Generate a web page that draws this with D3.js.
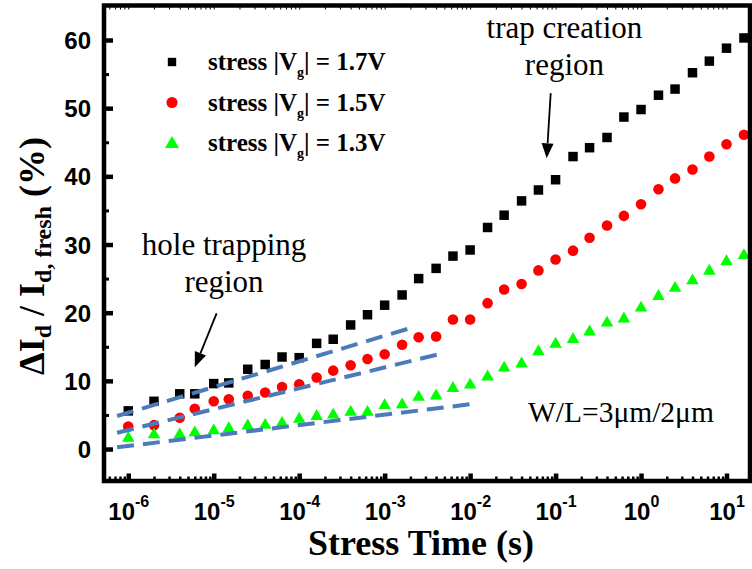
<!DOCTYPE html>
<html>
<head>
<meta charset="utf-8">
<script src="https://cdn.jsdelivr.net/npm/d3@7"></script>
<style>
  html, body { margin: 0; padding: 0; background: #fff; }
  svg { display: block; }
</style>
</head>
<body>
<svg id="chart" width="752" height="569"></svg>
<script>
// Stress times (s)
const times = [1e-6, 2e-6, 4e-6, 6e-6, 1e-5, 1.5e-5, 2.5e-5, 4e-5, 6.3e-5, 1e-4,
  1.6e-4, 2.5e-4, 4e-4, 6.3e-4, 1e-3, 1.6e-3, 2.5e-3, 4e-3, 6.3e-3, 1e-2,
  1.6e-2, 2.5e-2, 4e-2, 6.3e-2, 0.1, 0.16, 0.25, 0.4, 0.63, 1,
  1.6, 2.5, 4, 6.3, 10, 16];

// Drain-current degradation ΔId/Id,fresh (%) for each gate stress voltage
const vg17 = [5.6, 7.0, 8.1, 8.1, 9.6, 9.7, 11.7, 12.4, 13.5, 13.4,
  15.5, 16.1, 18.2, 19.7, 21.1, 22.6, 25.0, 26.5, 28.3, 29.2,
  32.5, 34.3, 36.4, 38.0, 39.5, 42.9, 44.2, 45.7, 48.7, 49.8,
  51.9, 52.8, 55.2, 56.9, 58.8, 60.3];
const vg15 = [3.3, 3.5, 4.6, 5.9, 7.0, 7.3, 7.8, 8.3, 9.1, 9.5,
  10.5, 11.5, 12.3, 13.2, 13.9, 15.3, 16.4, 16.5, 19.0, 19.0,
  21.4, 23.4, 24.2, 26.2, 27.8, 29.1, 31.0, 32.8, 34.2, 35.9,
  38.1, 39.7, 41.0, 42.9, 44.7, 46.1];
const vg13 = [1.6, 2.1, 2.1, 2.4, 2.7, 3.0, 3.4, 3.5, 3.8, 4.4,
  4.8, 5.0, 5.4, 5.4, 6.4, 6.5, 7.6, 7.8, 8.9, 9.4,
  10.6, 11.9, 12.5, 14.3, 15.4, 16.1, 17.2, 18.5, 19.1, 20.7,
  22.4, 23.6, 24.7, 26.1, 27.5, 28.4];

const seriesVoltages = ["1.7V", "1.5V", "1.3V"];
const seriesColors = ["#000000", "#ff0000", "#00ff00"];

// Hole-trapping regime fits (log-linear): [t, value] end points
const fitLines = [
  [[7.4e-7, 4.84], [2.2e-3, 17.9]],
  [[7.4e-7, 2.39], [4.6e-3, 14.0]],
  [[7.4e-7, 0.25], [1.05e-2, 6.6]]
];

// Tick values
const xTickExponents = [-6, -5, -4, -3, -2, -1, 0, 1];
const yTicks = [0, 10, 20, 30, 40, 50, 60];
const yMinorTicks = [5, 15, 25, 35, 45, 55];

// Text annotations with arrows (positions in data units)
const notes = [
  { lines: ["trap creation", "region"], t: 0.127, v: 60.3 },
  { lines: ["hole trapping", "region"], t: 1.32e-5, v: 28.5 }
];
const arrows = [
  { from: [0.0877, 52.2], to: [0.0787, 42.65] },
  { from: [1.08e-5, 19.9], to: [6.0e-6, 12.0] }
];
const deviceNote = { text: "W/L=3\u03bcm/2\u03bcm", t: 0.0475, v: 3.96 };

// ---------------------------------------------------------------
const serif = "'Liberation Serif', 'Times New Roman', Times, serif";
const sans = "'Liberation Sans', Arial, Helvetica, sans-serif";

const svg = d3.select("#chart");
const plot = { left: 104, right: 750, top: 5.5, bottom: 481 };

const x = d3.scaleLog()
  .domain([Math.pow(10, -6.284), Math.pow(10, 1.275)])
  .range([plot.left, plot.right]);
const y = d3.scaleLinear()
  .domain([-4.69, 65.06])
  .range([plot.bottom, plot.top]);

// ---- axes (ticks point inward) ----
const majorX = xTickExponents.map(e => Math.pow(10, e));
const minorX = x.ticks().filter(v => {
  const l = Math.log10(v);
  return Math.abs(l - Math.round(l)) > 1e-6;
});

function styleAxis(g, width) {
  g.select(".domain").remove();
  g.selectAll(".tick line").attr("stroke", "#000").attr("stroke-width", width);
}

// bottom minor
svg.append("g")
  .attr("transform", `translate(0,${plot.bottom})`)
  .call(d3.axisBottom(x).tickValues(minorX).tickSizeInner(-4.5).tickSizeOuter(0).tickFormat(""))
  .call(g => styleAxis(g, 2.5));

// bottom major with 10^n labels
const gx = svg.append("g")
  .attr("transform", `translate(0,${plot.bottom})`)
  .call(d3.axisBottom(x).tickValues(majorX).tickSizeInner(-7.5).tickSizeOuter(0).tickFormat(""))
  .call(g => styleAxis(g, 4.5));
gx.selectAll(".tick text").remove();
gx.selectAll(".tick").append("text")
  .attr("y", 39)
  .attr("text-anchor", "middle")
  .attr("fill", "#000")
  .style("font-family", sans)
  .style("font-weight", "bold")
  .style("font-size", "24px")
  .each(function (d) {
    const t = d3.select(this);
    const e = Math.round(Math.log10(d));
    t.append("tspan").text("10");
    t.append("tspan").attr("dy", -13).style("font-size", "16px").text(String(e));
  });

// top mirrored ticks
svg.append("g")
  .attr("transform", `translate(0,${plot.top})`)
  .call(d3.axisTop(x).tickValues(minorX.concat(majorX)).tickSizeInner(-4).tickSizeOuter(0).tickFormat(""))
  .call(g => styleAxis(g, 1));

// left minor
svg.append("g")
  .attr("transform", `translate(${plot.left},0)`)
  .call(d3.axisLeft(y).tickValues(yMinorTicks).tickSizeInner(-5).tickSizeOuter(0).tickFormat(""))
  .call(g => styleAxis(g, 3));

// left major
svg.append("g")
  .attr("transform", `translate(${plot.left},0)`)
  .call(d3.axisLeft(y).tickValues(yTicks).tickSizeInner(-9).tickSizeOuter(0).tickPadding(13).tickFormat(d3.format("d")))
  .call(g => styleAxis(g, 4.5))
  .call(g => g.selectAll(".tick text")
    .attr("fill", "#000")
    .attr("dy", "0.36em")
    .style("font-family", sans)
    .style("font-weight", "bold")
    .style("font-size", "24px"));

// ---- data markers ----
const symbols = [d3.symbolSquare, d3.symbolCircle, d3.symbolTriangle];
const sizes = [90, 88, 68];
const allSeries = [vg17, vg15, vg13];

allSeries.forEach((vals, si) => {
  svg.append("g")
    .selectAll("path")
    .data(times.map((t, i) => ({ t, v: vals[i] })))
    .join("path")
    .attr("transform", d => `translate(${x(d.t)},${y(d.v)})`)
    .attr("d", d3.symbol().type(symbols[si]).size(sizes[si]))
    .attr("fill", seriesColors[si]);
});

// ---- hole-trapping fit lines ----
const fitLine = d3.line().x(d => x(d[0])).y(d => y(d[1]));
svg.append("g")
  .selectAll("path")
  .data(fitLines)
  .join("path")
  .attr("d", fitLine)
  .attr("fill", "none")
  .attr("stroke", "#4a7bbb")
  .attr("stroke-width", 4)
  .attr("stroke-dasharray", "17,9");

// ---- frame ----
svg.append("rect")
  .attr("x", plot.left).attr("y", plot.top)
  .attr("width", plot.right - plot.left)
  .attr("height", plot.bottom - plot.top)
  .attr("fill", "none")
  .attr("stroke", "#000")
  .attr("stroke-width", 4.5);

// ---- legend ----
const legend = svg.append("g");
const legendSizes = [70, 95, 85];
seriesVoltages.forEach((volt, i) => {
  const row = legend.append("g").attr("transform", `translate(172,${62 + i * 40.5})`);
  row.append("path")
    .attr("d", d3.symbol().type(symbols[i]).size(legendSizes[i]))
    .attr("transform", i === 2 ? "translate(0,1)" : null)
    .attr("fill", seriesColors[i]);
  const txt = row.append("text")
    .attr("x", 36).attr("y", 8)
    .attr("fill", "#000")
    .style("font-family", serif)
    .style("font-weight", "bold")
    .style("font-size", "25px");
  txt.append("tspan").text("stress |V");
  txt.append("tspan").attr("dy", 7).style("font-size", "14px").text("g");
  txt.append("tspan").attr("dy", -7).text("| = " + volt);
});

// ---- annotations ----
notes.forEach(n => {
  const t = svg.append("text")
    .attr("x", x(n.t)).attr("y", y(n.v))
    .attr("text-anchor", "middle")
    .attr("fill", "#000")
    .style("font-family", serif)
    .style("font-size", "31px");
  n.lines.forEach((line, i) => {
    t.append("tspan").attr("x", x(n.t)).attr("dy", i === 0 ? 0 : 37).text(line);
  });
});

arrows.forEach(a => {
  const x0 = x(a.from[0]), y0 = y(a.from[1]);
  const x1 = x(a.to[0]), y1 = y(a.to[1]);
  const ang = Math.atan2(y1 - y0, x1 - x0);
  const headLen = 15, headHalf = 6;
  const bx = x1 - headLen * Math.cos(ang), by = y1 - headLen * Math.sin(ang);
  svg.append("line")
    .attr("x1", x0).attr("y1", y0).attr("x2", bx).attr("y2", by)
    .attr("stroke", "#000").attr("stroke-width", 1.8);
  const px = -Math.sin(ang), py = Math.cos(ang);
  svg.append("path")
    .attr("d", `M${x1},${y1}L${bx + px * headHalf},${by + py * headHalf}L${bx - px * headHalf},${by - py * headHalf}Z`)
    .attr("fill", "#000");
});

svg.append("text")
  .attr("x", x(deviceNote.t)).attr("y", y(deviceNote.v))
  .attr("fill", "#000")
  .style("font-family", serif)
  .style("font-size", "29.5px")
  .text(deviceNote.text);

// ---- axis titles ----
svg.append("text")
  .attr("x", 421).attr("y", 555)
  .attr("text-anchor", "middle")
  .attr("fill", "#000")
  .style("font-family", serif)
  .style("font-weight", "bold")
  .style("font-size", "36px")
  .text("Stress Time (s)");

const yTitle = svg.append("text")
  .attr("transform", "translate(44,256) rotate(-90)")
  .attr("text-anchor", "middle")
  .attr("fill", "#000")
  .style("font-family", serif)
  .style("font-weight", "bold")
  .style("font-size", "36px");
yTitle.append("tspan").text("\u0394I");
yTitle.append("tspan").attr("dy", 7).style("font-size", "24px").text("d");
yTitle.append("tspan").attr("dy", -7).text(" / I");
yTitle.append("tspan").attr("dy", 7).style("font-size", "24px").text("d, fresh");
yTitle.append("tspan").attr("dy", -7).text(" (%)");
</script>
</body>
</html>
